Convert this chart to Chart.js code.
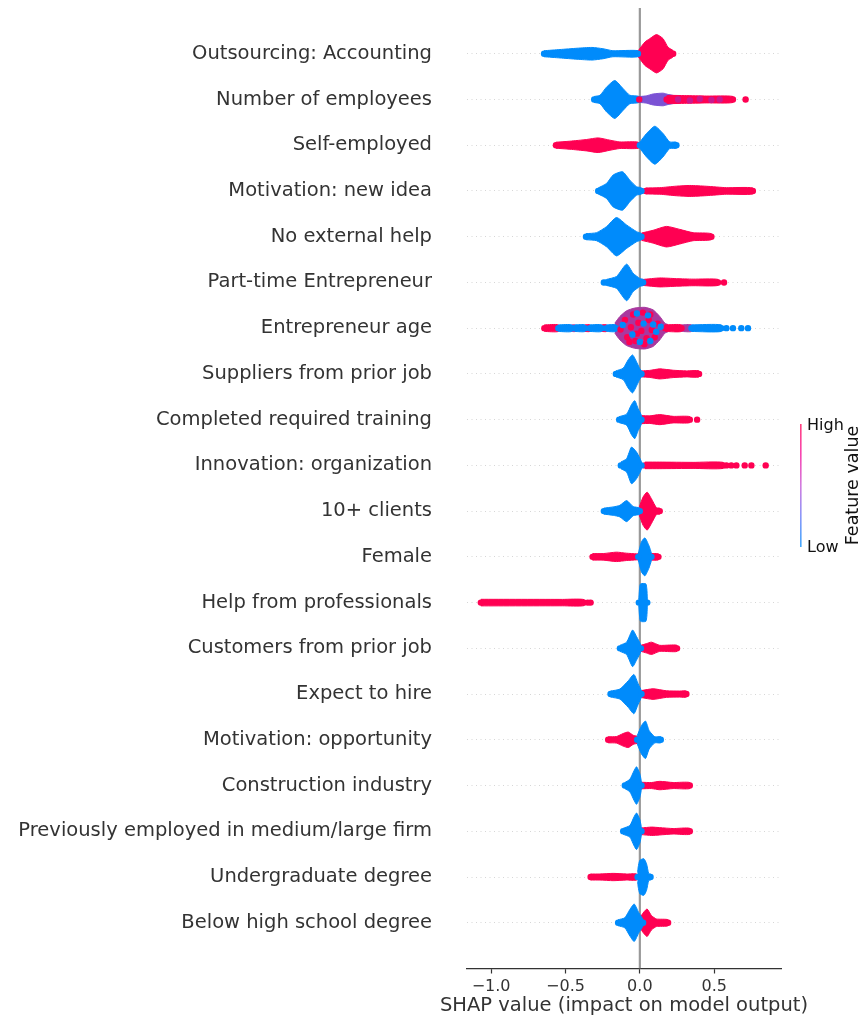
<!DOCTYPE html>
<html>
<head>
<meta charset="utf-8">
<script src="https://cdn.jsdelivr.net/npm/chart.js@4.4.0/dist/chart.umd.min.js"></script>
<style>
  html, body { margin: 0; padding: 0; background: #ffffff; }
  #wrap { width: 861px; height: 1020px; position: relative; }
  canvas { display: block; }
</style>
</head>
<body>
<div id="wrap"><canvas id="shap" width="861" height="1020" style="width:861px;height:1020px"></canvas></div>
<script>
// Feature names, top to bottom (ordered by mean |SHAP|)
const features = [
  "Outsourcing: Accounting", "Number of employees", "Self-employed", "Motivation: new idea",
  "No external help", "Part-time Entrepreneur", "Entrepreneur age", "Suppliers from prior job",
  "Completed required training", "Innovation: organization", "10+ clients", "Female",
  "Help from professionals", "Customers from prior job", "Expect to hire", "Motivation: opportunity",
  "Construction industry", "Previously employed in medium/large firm", "Undergraduate degree",
  "Below high school degree"
];

const xTicks = [-1.0, -0.5, 0.0, 0.5];
const xTitle = 'SHAP value (impact on model output)';

// Beeswarm density outlines: per feature, a list of runs of [SHAP value, half spread in rows]
// Low feature values
const lowProfiles = [
  [[[-0.644,0.066],[-0.537,0.092],[-0.423,0.12],[-0.322,0.138],[-0.248,0.11],[-0.181,0.066],[-0.013,0.066]]],
  [[[-0.307,0.066],[-0.268,0.092],[-0.224,0.27],[-0.168,0.415],[-0.112,0.236],[-0.067,0.092],[-0.005,0.066]]],
  [[[0,0.066],[0.045,0.256],[0.101,0.415],[0.156,0.256],[0.201,0.072],[0.246,0.066]]],
  [[[-0.28,0.066],[-0.224,0.164],[-0.179,0.35],[-0.116,0.42],[-0.067,0.236],[-0.022,0.092],[0.011,0.066]]],
  [[[-0.362,0.066],[-0.291,0.088],[-0.224,0.22],[-0.157,0.42],[-0.089,0.256],[-0.022,0.11],[0.011,0.066]]],
  [[[-0.224,0.066],[-0.157,0.13],[-0.089,0.4],[-0.045,0.2],[0,0.088],[0.022,0.066]]],
  [[[-0.548,0.072],[-0.459,0.072]],[[-0.436,0.072],[-0.369,0.072]],[[-0.336,0.072],[-0.257,0.072]],[[-0.224,0.072],[-0.16,0.072]],[[0.347,0.072],[0.548,0.072]]],
  [[[-0.161,0.066],[-0.112,0.125],[-0.078,0.31],[-0.049,0.415],[-0.018,0.236],[0,0.11],[0.011,0.066]]],
  [[[-0.139,0.066],[-0.089,0.12],[-0.056,0.33],[-0.034,0.415],[-0.011,0.236],[0.011,0.088]]],
  [[[-0.128,0.072],[-0.089,0.146],[-0.056,0.4],[-0.022,0.29],[0.011,0.072]]],
  [[[-0.242,0.066],[-0.179,0.092],[-0.134,0.127],[-0.089,0.23],[-0.045,0.1],[0,0.066]]],
  [[[-0.011,0.066],[0.011,0.33],[0.034,0.415],[0.06,0.256],[0.078,0.072]]],
  [[[-0.007,0.066],[-0.002,0.3],[0.005,0.41],[0.04,0.41],[0.047,0.3],[0.05,0.1]]],
  [[[-0.134,0.066],[-0.089,0.135],[-0.049,0.4],[-0.022,0.256],[0.007,0.066]]],
  [[[-0.197,0.066],[-0.134,0.11],[-0.078,0.29],[-0.04,0.43],[-0.011,0.22],[0.011,0.066]]],
  [[[-0.018,0.088],[0.011,0.31],[0.038,0.41],[0.063,0.2],[0.101,0.066],[0.141,0.066]]],
  [[[-0.101,0.066],[-0.067,0.138],[-0.04,0.317],[-0.022,0.41],[0,0.256],[0.011,0.066]]],
  [[[-0.112,0.066],[-0.067,0.127],[-0.04,0.31],[-0.022,0.4],[0,0.256],[0.011,0.066]]],
  [[[-0.015,0.1],[-0.011,0.22],[0,0.365],[0.027,0.4],[0.045,0.29],[0.06,0.072],[0.072,0.066]]],
  [[[-0.146,0.066],[-0.101,0.11],[-0.067,0.29],[-0.038,0.41],[-0.007,0.22],[0.022,0.066]]]
];

// High feature values
const highProfiles = [
  [[[-0.011,0.066],[0.034,0.256],[0.067,0.33],[0.112,0.42],[0.156,0.33],[0.19,0.14],[0.224,0.066]]],
  [[[0.18,0.08],[0.2,0.09],[0.3,0.085],[0.45,0.075],[0.626,0.066]]],
  [[[-0.564,0.066],[-0.47,0.088],[-0.358,0.125],[-0.28,0.16],[-0.201,0.11],[-0.134,0.072],[-0.011,0.066]]],
  [[[0.04,0.066],[0.134,0.072],[0.246,0.105],[0.336,0.12],[0.447,0.103],[0.582,0.072],[0.76,0.066]]],
  [[[0.011,0.08],[0.089,0.14],[0.179,0.225],[0.268,0.16],[0.358,0.088],[0.481,0.066]]],
  [[[0.022,0.066],[0.134,0.098],[0.246,0.083],[0.358,0.072],[0.526,0.066]]],
  [[[-0.642,0.072],[-0.548,0.072]],[[-0.369,0.072],[-0.336,0.072]],[[-0.257,0.072],[-0.224,0.072]],[[0.17,0.072],[0.28,0.072]]],
  [[[0.011,0.066],[0.067,0.077],[0.134,0.11],[0.224,0.08],[0.313,0.066],[0.398,0.066]]],
  [[[0.011,0.088],[0.067,0.083],[0.134,0.11],[0.224,0.072],[0.336,0.066]]],
  [[[0.034,0.072],[0.134,0.072],[0.358,0.066],[0.56,0.066]]],
  [[[-0.004,0.088],[0.022,0.31],[0.049,0.415],[0.078,0.27],[0.112,0.072],[0.134,0.066]]],
  [[[-0.318,0.072],[-0.246,0.072],[-0.157,0.103],[-0.089,0.08],[-0.022,0.066],[0.011,0.066]],[[0.05,0.066],[0.125,0.066]]],
  [[[-1.069,0.072],[-0.52,0.07],[-0.375,0.066]]],
  [[[0.007,0.066],[0.045,0.103],[0.078,0.135],[0.134,0.066],[0.201,0.072],[0.25,0.066]]],
  [[[0.011,0.077],[0.089,0.116],[0.179,0.072],[0.268,0.066],[0.313,0.066]]],
  [[[-0.213,0.066],[-0.157,0.072],[-0.112,0.138],[-0.078,0.17],[-0.045,0.1],[-0.011,0.066]]],
  [[[0.011,0.072],[0.078,0.066],[0.134,0.092],[0.224,0.066],[0.336,0.066]]],
  [[[0.011,0.072],[0.078,0.092],[0.134,0.08],[0.224,0.06],[0.336,0.066]]],
  [[[-0.331,0.066],[-0.268,0.066],[-0.179,0.08],[-0.089,0.066],[-0.022,0.066]]],
  [[[0,0.11],[0.027,0.236],[0.049,0.3],[0.078,0.158],[0.112,0.083],[0.19,0.066]]]
];

// Mid-range feature values (only where they form a visible run)
const midProfiles = {
  1: [[[0.005,0.066],[0.045,0.08],[0.089,0.12],[0.156,0.138],[0.19,0.11],[0.246,0.066]]],
  6: [[[-0.459,0.072],[-0.436,0.072]],[[0.28,0.072],[0.347,0.072]],
      [[-0.168,0.11],[-0.134,0.256],[-0.089,0.38],[-0.034,0.44],[0.034,0.455],[0.089,0.4],[0.134,0.256],[0.168,0.11],[0.19,0.072]]]
};

// Isolated observations: [feature index, SHAP value]
const lowDots = [[5,-0.242],[6,0.582],[6,0.626],[6,0.682],[6,0.727]];
const highDots = [[1,-0.004],[1,0.711],[5,0.566],[8,0.385],[9,0.582],[9,0.615],[9,0.649],[9,0.705],[9,0.75],[9,0.846],[12,-0.35],[12,-0.331]];
// Mid-valued observations inside the high run of "Number of employees": [SHAP value, jitter]
const employeesMidDots = [[0.257,0.0],[0.336,0.02],[0.403,-0.01],[0.481,0.01],[0.537,0.0]];
// Entrepreneur age core, individual observations: [SHAP value, jitter]
const ageHighDots = [[-0.13,0.03],[-0.1,-0.18],[-0.085,0.2],[-0.06,-0.02],[-0.045,-0.3],[-0.03,0.28],[-0.01,-0.12],[0.01,0.06],[0.02,-0.34],[0.045,0.22],[0.06,-0.18],[0.08,0.04],[0.1,0.2],[0.12,-0.1],[-0.07,0.3],[0.03,0.35],[-0.02,0.12],[0.07,-0.3]];
const ageLowDots = [[-0.115,-0.07],[-0.05,0.14],[-0.02,-0.32],[0.0,0.3],[0.025,-0.1],[0.055,-0.28],[0.07,0.28],[0.09,-0.08],[0.11,0.08],[0.14,-0.03]];

// ---- styling ----
const LOW = '#008bfb';
const HIGH = '#ff0052';
const MID_COLORS = { 1: '#7b52d4', 6: '#a9389f' };
const MAGENTA = '#c8188f';
const DOT_R = 3.2;
const FONT = "'DejaVu Sans', 'Liberation Sans', sans-serif";

Chart.defaults.font.family = FONT;

const datasets = [];

// zero reference line
datasets.push({
  data: [{x: 0, y: -1}, {x: 0, y: 20}], showLine: true,
  borderColor: '#999999', borderWidth: 2.2, pointRadius: 0
});

function addRun(row, pts, color) {
  const upper = pts.map(([x, s]) => ({x, y: row - s}));
  const lower = pts.slice().reverse().map(([x, s]) => ({x, y: row + s}));
  datasets.push({
    data: upper.concat(lower), showLine: true, fill: 'shape',
    backgroundColor: color, borderColor: color, borderWidth: 1,
    borderJoinStyle: 'round', pointRadius: 0, tension: 0.2
  });
  // rounded ends where the run thins out to single markers
  const ends = [pts[0], pts[pts.length - 1]].filter(p => p[1] <= 0.1).map(([x]) => ({x, y: row}));
  if (ends.length) {
    datasets.push({data: ends, backgroundColor: color, pointRadius: DOT_R, pointBorderWidth: 0});
  }
}

features.forEach((_, row) => {
  (midProfiles[row] || []).forEach(r => addRun(row, r, MID_COLORS[row]));
  (highProfiles[row] || []).forEach(r => addRun(row, r, HIGH));
  (lowProfiles[row] || []).forEach(r => addRun(row, r, LOW));
});

function dotSet(points, color) {
  datasets.push({data: points, backgroundColor: color, pointRadius: DOT_R, pointBorderWidth: 0});
}
dotSet(highDots.map(([r, x]) => ({x, y: r})), HIGH);
dotSet(lowDots.map(([r, x]) => ({x, y: r})), LOW);
dotSet(employeesMidDots.map(([x, j]) => ({x, y: 1 + j})), MAGENTA);
dotSet(ageHighDots.map(([x, j]) => ({x, y: 6 + j})), HIGH);
dotSet(ageLowDots.map(([x, j]) => ({x, y: 6 + j})), LOW);

// later datasets drawn on top
datasets.forEach((d, i) => { d.order = -i; });

// axis title (full width, not squeezed to the plot width) and colour bar
const decorations = {
  id: 'decorations',
  afterDraw(chart) {
    const ctx = chart.ctx;
    const area = chart.chartArea;
    ctx.save();
    ctx.fillStyle = '#333333';
    ctx.font = "19.5px " + FONT;
    ctx.textAlign = 'center';
    ctx.textBaseline = 'middle';
    ctx.fillText(xTitle, (area.left + area.right) / 2, 1006);

    const x = 800, top = 424, bottom = 547;
    const g = ctx.createLinearGradient(0, bottom, 0, top);
    g.addColorStop(0, 'rgb(0,139,251)');
    g.addColorStop(0.25, 'rgb(99,116,247)');
    g.addColorStop(0.5, 'rgb(195,79,212)');
    g.addColorStop(0.75, 'rgb(246,6,152)');
    g.addColorStop(1, 'rgb(255,0,82)');
    ctx.globalAlpha = 0.75;
    ctx.fillStyle = g;
    ctx.fillRect(x, top, 1.6, bottom - top);
    ctx.globalAlpha = 1;
    ctx.fillStyle = '#111111';
    ctx.font = "16px " + FONT;
    ctx.textAlign = 'left';
    ctx.fillText('High', 807, top + 2);
    ctx.fillText('Low', 807, bottom + 1);
    ctx.translate(853, (top + bottom) / 2);
    ctx.rotate(-Math.PI / 2);
    ctx.textAlign = 'center';
    ctx.font = "17.5px " + FONT;
    ctx.fillText('Feature value', 0, 0);
    ctx.restore();
  }
};

new Chart(document.getElementById('shap'), {
  type: 'scatter',
  data: { datasets },
  options: {
    responsive: false,
    animation: false,
    events: [],
    layout: { padding: { left: 0, right: 80, top: 8, bottom: 0 } },
    plugins: { legend: { display: false }, tooltip: { enabled: false } },
    scales: {
      x: {
        type: 'linear', position: 'bottom', min: -1.162, max: 0.949,
        afterBuildTicks: s => { s.ticks = xTicks.map(v => ({ value: v })); },
        afterFit: s => { s.height = 51.5; s.paddingLeft = 0; s.paddingRight = 0; },
        grid: { display: true, drawOnChartArea: false, drawTicks: true, tickLength: 5, tickWidth: 1.2, tickColor: '#333333' },
        border: { display: true, color: '#333333', width: 1.2 },
        ticks: {
          color: '#333333', font: { size: 16 }, padding: 4, maxRotation: 0,
          callback: v => v.toFixed(1).replace('-', '\u2212')
        },
        title: { display: false }
      },
      y: {
        type: 'linear', min: -1, max: 20, reverse: true,
        afterBuildTicks: s => { s.ticks = features.map((f, i) => ({ value: i })); },
        afterFit: s => { s.width = 467; s.paddingTop = 0; s.paddingBottom = 0; },
        grid: { color: '#cccccc', lineWidth: 0.8, drawTicks: false },
        border: { display: false, dash: [1, 3.5] },
        ticks: {
          color: '#333333', font: { size: 19.5 }, padding: 35, autoSkip: false,
          callback: v => features[v]
        }
      }
    }
  },
  plugins: [decorations]
});
</script>
</body>
</html>
